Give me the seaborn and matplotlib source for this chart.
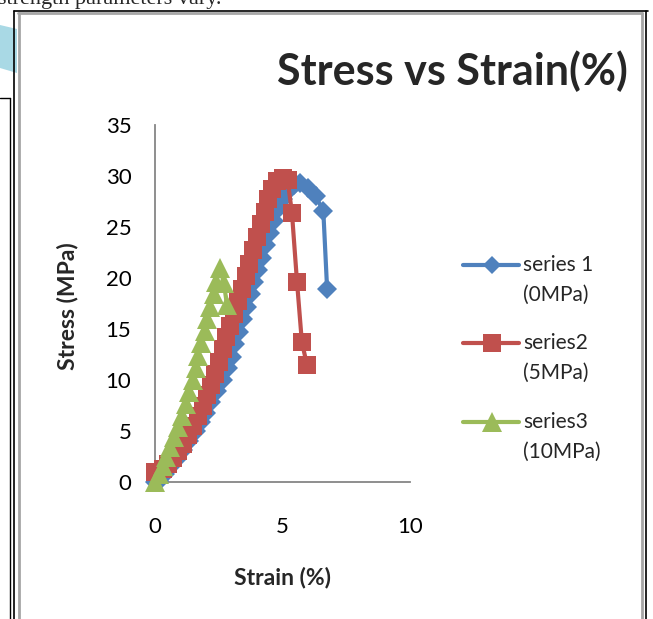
import matplotlib
matplotlib.use("Agg")
import matplotlib.pyplot as plt
import seaborn as sns
import pandas as pd
from matplotlib.lines import Line2D
from matplotlib.patches import Polygon

# ---------------- data ----------------
s1_strain = [0.0, 0.15, 0.4, 0.6, 0.85, 1.1, 1.35, 1.6, 1.8, 2.0, 2.2, 2.45, 2.65, 2.85, 3.0,
             3.15, 3.3, 3.45, 3.6, 3.75, 3.9, 4.05, 4.2, 4.35, 4.5, 4.65, 4.8, 5.0, 5.2, 5.45,
             5.7, 6.0, 6.3, 6.6, 6.75]
s1_stress = [0.0, 0.1, 0.8, 1.5, 2.3, 3.1, 4.0, 5.0, 5.9, 6.8, 7.8, 8.9, 10.0, 11.2, 12.3,
             13.5, 14.7, 16.0, 17.2, 18.4, 19.6, 20.8, 22.0, 23.2, 24.4, 25.6, 26.7, 27.7, 28.5, 29.1,
             29.3, 28.8, 28.0, 26.6, 18.9]

s2_strain = [0.0, 0.3, 0.5, 0.7, 0.9, 1.1, 1.3, 1.5, 1.7, 1.9, 2.05, 2.2, 2.35, 2.5, 2.65,
             2.8, 2.95, 3.1, 3.25, 3.4, 3.55, 3.7, 3.85, 4.0, 4.15, 4.3, 4.45, 4.6, 4.8, 5.0,
             5.2, 5.37, 5.57, 5.76, 5.96]
s2_stress = [1.0, 1.3, 1.8, 2.4, 3.0, 3.7, 4.6, 5.5, 6.5, 7.5, 8.5, 9.5, 10.6, 11.8, 13.0,
             14.2, 15.3, 16.5, 17.7, 18.9, 20.2, 21.4, 22.7, 24.0, 25.3, 26.5, 27.7, 28.7, 29.5, 29.8,
             29.6, 26.4, 19.6, 13.7, 11.5]

s3_strain = [0.0, 0.15, 0.3, 0.45, 0.6, 0.75, 0.9, 1.05, 1.2, 1.35, 1.5, 1.6, 1.7, 1.8, 1.95,
             2.05, 2.15, 2.3, 2.4, 2.55, 2.7, 2.82]
s3_stress = [0.0, 0.8, 1.6, 2.5, 3.4, 4.4, 5.4, 6.5, 7.6, 8.8, 10.0, 11.2, 12.4, 13.6, 14.8,
             16.0, 17.2, 18.4, 19.6, 21.0, 19.5, 17.4]

series_names = ["series 1", "series2", "series3"]
series_conf = ["(0MPa)", "(5MPa)", "(10MPa)"]
x_ticks = [0, 5, 10]
y_ticks = [0, 5, 10, 15, 20, 25, 30, 35]

title_text = "Stress vs Strain(%)"
x_label = "Strain (%)"
y_label = "Stress (MPa)"
doc_text = "strength parameters vary."

# ---------------- figure ----------------
W, H = 653, 619
sns.set_theme(style="white")
plt.rcParams["font.family"] = ["Lato", "DejaVu Sans"]

fig = plt.figure(figsize=(W / 100, H / 100), dpi=100)
fig.patch.set_facecolor("white")


def fx(px):
    return px / W


def fy(py):
    return 1 - py / H


ax = fig.add_axes([fx(155), fy(482), fx(410) - fx(155), fy(125) - fy(482)])

colors = ["#4F81BD", "#C0504D", "#9BBB59"]
markers = ["D", "s", "^"]
msizes = [10, 13.5, 14.5]

frames = []
for strain, stress, name in [(s1_strain, s1_stress, series_names[0]),
                             (s2_strain, s2_stress, series_names[1]),
                             (s3_strain, s3_stress, series_names[2])]:
    frames.append(pd.DataFrame({"strain": strain, "stress": stress, "series": name}))

for i, df in enumerate(frames):
    sns.lineplot(data=df, x="strain", y="stress", ax=ax, sort=False, estimator=None,
                 color=colors[i], marker=markers[i], markersize=msizes[i],
                 markeredgewidth=0, linewidth=3, legend=False, clip_on=False, zorder=3)

ax.set_xlim(0, 10)
ax.set_ylim(0, 35)
ax.set_xticks(x_ticks)
ax.set_yticks(y_ticks)
ax.tick_params(axis="both", length=0, labelsize=16, colors="black")
ax.tick_params(axis="x", pad=25)
ax.tick_params(axis="y", pad=17)
for sp in ["top", "right"]:
    ax.spines[sp].set_visible(False)
for sp in ["left", "bottom"]:
    ax.spines[sp].set_color("#868686")
    ax.spines[sp].set_linewidth(1.3)
ax.set_facecolor("white")
ax.set_xlabel("")
ax.set_ylabel("")

fig.text(fx(283), fy(577), x_label, ha="center", va="center", fontsize=16.5, fontweight="bold")
fig.text(fx(68), fy(306), y_label, ha="center", va="center", rotation=90, fontsize=16.5,
         fontweight="bold")
fig.text(fx(628), fy(85), title_text, ha="right", va="baseline", fontsize=31, fontweight="bold")

# legend (one handle per series, label written in two lines like the original)
leg_y = [265, 343, 422]
line_gap = 30
for i in range(3):
    y = leg_y[i]
    fig.add_artist(Line2D([fx(463), fx(519)], [fy(y), fy(y)], color=colors[i], lw=3))
    fig.add_artist(Line2D([fx(492)], [fy(y)], color=colors[i], marker=markers[i],
                          markersize=msizes[i] * 0.95, markeredgewidth=0, lw=0))
    fig.text(fx(523), fy(y), series_names[i], ha="left", va="center", fontsize=15)
    fig.text(fx(523), fy(y + line_gap), series_conf[i], ha="left", va="center", fontsize=15)

# document frame decorations
def vline(x, y0, y1, color, lw):
    fig.add_artist(Line2D([fx(x), fx(x)], [fy(y0), fy(y1)], color=color, lw=lw))


def hline(y, x0, x1, color, lw):
    fig.add_artist(Line2D([fx(x0), fx(x1)], [fy(y), fy(y)], color=color, lw=lw))


fig.add_artist(Polygon([(fx(0), fy(25)), (fx(17), fy(29)), (fx(17), fy(73)), (fx(0), fy(68))],
                       closed=True, facecolor="#A9D9E5", edgecolor="none"))
vline(14, 11, 619, "black", 1.2)
hline(11, 14, 648, "black", 1.2)
vline(646, 11, 619, "black", 1.2)
vline(18.5, 13, 619, "#A6A6A6", 2)
hline(13, 18, 642, "#A6A6A6", 2)
vline(641.5, 13, 619, "#A6A6A6", 2)
hline(98, 0, 10, "black", 1.0)
vline(10, 98, 619, "black", 1.0)
fig.text(fx(-2), fy(4), doc_text, ha="left", va="baseline", fontsize=16,
         family=["Liberation Serif", "DejaVu Serif"])

fig.savefig("out.png", dpi=100, facecolor="white")
